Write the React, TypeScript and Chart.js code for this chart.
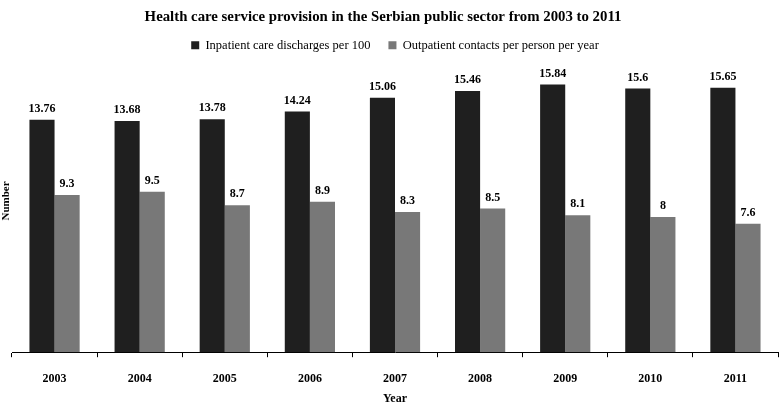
import React, { useEffect, useRef } from "react";
import { Chart, registerables } from "chart.js";

Chart.register(...registerables);

const years = ["2003", "2004", "2005", "2006", "2007", "2008", "2009", "2010", "2011"];
const inpatient = [13.76, 13.68, 13.78, 14.24, 15.06, 15.46, 15.84, 15.6, 15.65];
const outpatient = [9.3, 9.5, 8.7, 8.9, 8.3, 8.5, 8.1, 8, 7.6];
const seriesNames = ["Inpatient care discharges per 100", "Outpatient contacts per person per year"];
const titleText = "Health care service provision in the Serbian public sector from 2003 to 2011";
const yTitle = "Number";
const xTitle = "Year";

const SERIF = "'Times New Roman', 'Liberation Serif', serif";

const labelPlugin = {
  id: "valueLabels",
  afterDatasetsDraw(chart: any) {
    const ctx = chart.ctx;
    ctx.save();
    ctx.font = `bold 12px ${SERIF}`;
    ctx.fillStyle = "#000";
    ctx.textAlign = "center";
    ctx.textBaseline = "middle";
    chart.data.datasets.forEach((ds: any, i: number) => {
      const meta = chart.getDatasetMeta(i);
      meta.data.forEach((bar: any, j: number) => {
        ctx.fillText(String(ds.data[j]), bar.x, bar.y - 11);
      });
    });
    // chart title
    ctx.font = `bold 14.8px ${SERIF}`;
    ctx.fillText(titleText, 383, 17);
    // y axis title
    ctx.translate(6, 201);
    ctx.rotate(-Math.PI / 2);
    ctx.font = `bold 11px ${SERIF}`;
    ctx.fillText(yTitle, 0, 0);
    ctx.restore();
  },
};

export default function App() {
  const ref = useRef<HTMLCanvasElement>(null);
  useEffect(() => {
    if (!ref.current) return;
    const chart = new Chart(ref.current, {
      type: "bar",
      data: {
        labels: years,
        datasets: [
          {
            label: seriesNames[0],
            data: inpatient,
            backgroundColor: "#1f1f1f",
            categoryPercentage: 0.59,
            barPercentage: 1,
          },
          {
            label: seriesNames[1],
            data: outpatient,
            backgroundColor: "#787878",
            categoryPercentage: 0.59,
            barPercentage: 1,
          },
        ],
      },
      options: {
        responsive: false,
        animation: false,
        layout: { padding: { left: 12, right: 1, top: 21, bottom: 0 } },
        plugins: {
          title: { display: false },
          legend: {
            display: true,
            labels: {
              color: "#000",
              font: { family: SERIF, size: 12.5 },
              boxWidth: 8,
              boxHeight: 8,
              padding: 18,
            },
          },
          tooltip: { enabled: false },
        },
        scales: {
          x: {
            grid: {
              display: true,
              drawOnChartArea: false,
              drawTicks: true,
              tickLength: 5,
              color: "#000",
              offset: true,
            },
            border: { display: true, color: "#000" },
            ticks: {
              color: "#000",
              font: { family: SERIF, size: 12, weight: "bold" },
              padding: 15,
            },
            title: {
              display: true,
              text: xTitle,
              color: "#000",
              font: { family: SERIF, size: 12, weight: "bold" },
              padding: { top: -10, bottom: -2 },
            },
          },
          y: {
            display: false,
            min: 0,
            max: 17.2,
          },
        },
      },
      plugins: [labelPlugin],
    });
    return () => chart.destroy();
  }, []);
  return (
    <div style={{ position: "fixed", left: 0, top: 0, width: 779, height: 404, background: "#fff" }}>
      <canvas ref={ref} width={779} height={404} style={{ width: 779, height: 404 }} />
    </div>
  );
}
